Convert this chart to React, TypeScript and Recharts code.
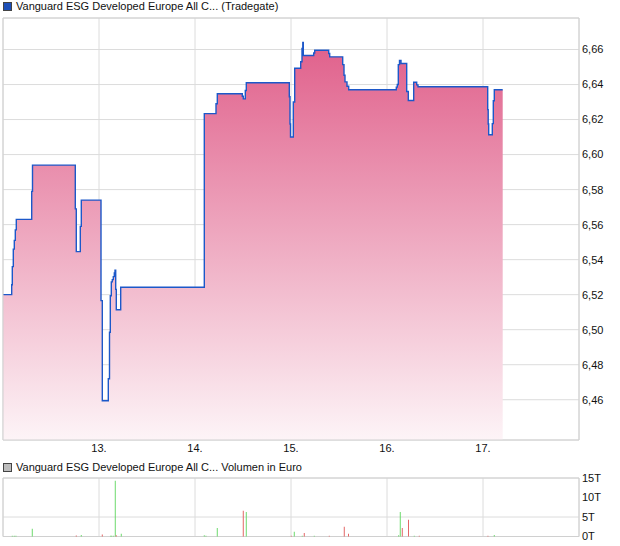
import React from 'react';
import { ComposedChart, Area, Bar, XAxis, YAxis, CartesianGrid, ReferenceArea } from 'recharts';

// time in trading days since start of the 12th (0 = 12., 1 = 13., ...)
const priceTimes = [
  0, 0.0906, 0.0969, 0.1073, 0.1177, 0.1281, 0.1385, 0.299, 0.3073, 0.7531, 0.7635, 0.8052, 0.8156,
  1.0208, 1.0344, 1.0969, 1.1094, 1.1177, 1.1281, 1.1385, 1.149, 1.1594, 1.1667, 1.174, 1.1802, 1.226,
  2.0969, 2.2188, 2.2323, 2.4927, 2.5031, 2.524, 2.5344, 2.9823, 2.9896, 2.9948, 3.024, 3.0385, 3.101,
  3.1146, 3.1229, 3.1281, 3.2365, 3.2469, 3.3927, 3.4031, 3.5385, 3.5521, 3.5625, 3.5833, 3.601,
  4.0969, 4.1073, 4.1177, 4.1302, 4.1458, 4.2052, 4.2219, 4.2781, 4.3094, 4.3229,
  5.049, 5.0542, 5.0594, 5.0969, 5.1073, 5.1177, 5.2052,
];
const priceValues = [
  6.52, 6.5257, 6.536, 6.546, 6.551, 6.557, 6.563, 6.579, 6.594, 6.569, 6.5446, 6.559, 6.574,
  6.5166, 6.4594, 6.472, 6.4985, 6.5194, 6.5273, 6.5286, 6.5303, 6.5324, 6.534, 6.523, 6.5114, 6.5242,
  6.6234, 6.629, 6.6347, 6.6333, 6.6318, 6.6366, 6.641, 6.633, 6.6175, 6.61, 6.63, 6.6493, 6.653,
  6.6606, 6.664, 6.6566, 6.658, 6.6596, 6.6577, 6.6558, 6.6514, 6.6453, 6.6415, 6.639, 6.637,
  6.6385, 6.64, 6.6514, 6.6537, 6.652, 6.636, 6.6309, 6.6413, 6.6398, 6.6387,
  6.6257, 6.6175, 6.6113, 6.6177, 6.6307, 6.637, 6.637,
];

const dayTicks = [1, 2, 3, 4, 5];
const dayLabels = ['13.', '14.', '15.', '16.', '17.'];
const priceTicks = [6.46, 6.48, 6.5, 6.52, 6.54, 6.56, 6.58, 6.6, 6.62, 6.64, 6.66];
const priceDomain = [6.437, 6.678];

// volume in thousands (T)
const upTimes = [0.0969, 0.1177, 0.1354, 0.3052, 0.8156, 1.1219, 1.1323, 1.149, 1.1698, 1.2323, 2.0969, 2.1146, 2.2323, 2.5344, 3.0344, 3.1177, 3.2427, 4.1219, 4.1385, 4.2844, 5.1177];
const upValues = [0.2, 0.2, 0.2, 2.0, 0.4, 0.2, 0.2, 0.2, 14.3, 0.7, 0.3, 0.2, 2.2, 6.3, 1.2, 0.2, 0.2, 0.3, 6.3, 0.2, 0.4];
const downTimes = [0.7635, 1.0344, 1.1802, 2.5031, 3.0031, 3.1385, 3.399, 3.5552, 3.599, 4.1594, 4.224, 4.3365, 5.0521];
const downValues = [0.25, 0.5, 0.3, 6.6, 0.2, 0.9, 0.2, 2.5, 0.7, 2.2, 4.3, 0.2, 0.2];
const volumeTicks = [0, 5, 10, 15];

const priceData = priceTimes.map((t, i) => ({ t, v: priceValues[i] }));
const volumeData = [
  ...upTimes.map((t, i) => ({ t, up: upValues[i], down: 0 })),
  ...downTimes.map((t, i) => ({ t, up: 0, down: downValues[i] })),
].sort((a, b) => a.t - b.t);

const FONT = '"Liberation Sans", Arial, sans-serif';
const GRID = '#dcdcdc';
const BORDER = '#d0d0d0';

const Legend = ({ top, color, text }: { top: number; color: string; text: string }) => (
  <div style={{ position: 'absolute', left: 3, top, display: 'flex', alignItems: 'center', fontFamily: FONT, fontSize: 11, color: '#111', whiteSpace: 'nowrap' }}>
    <span style={{ display: 'inline-block', width: 7, height: 7, background: color, border: '1px solid #444', marginRight: 4 }} />
    <span>{text}</span>
  </div>
);

export default function App() {
  return (
    <div style={{ position: 'absolute', left: 0, top: 0, width: 620, height: 546, background: '#fff', overflow: 'hidden' }}>
      <Legend top={0} color="#1d4fb8" text="Vanguard ESG Developed Europe All C... (Tradegate)" />
      <div style={{ position: 'absolute', left: 0, top: 0 }}>
        <ComposedChart width={620} height={460} data={priceData} margin={{ top: 18, right: 0, left: 3, bottom: 0 }}>
          <defs>
            <linearGradient id="pg" x1="0" y1="0" x2="0" y2="1">
              <stop offset="0%" stopColor="#e0608b" />
              <stop offset="100%" stopColor="#fdf4f7" />
            </linearGradient>
          </defs>
          <CartesianGrid stroke={GRID} strokeWidth={1} />
          <XAxis
            dataKey="t"
            type="number"
            domain={[0, 6]}
            ticks={dayTicks}
            tickFormatter={(v: number) => dayLabels[dayTicks.indexOf(v)] ?? ''}
            axisLine={false}
            tickLine={false}
            height={20}
            tickSize={2}
            tickMargin={2}
            tick={{ fontFamily: FONT, fontSize: 11, fill: '#111' }}
            allowDataOverflow
          />
          <YAxis
            orientation="right"
            type="number"
            domain={priceDomain}
            ticks={priceTicks}
            tickFormatter={(v: number) => v.toFixed(2).replace('.', ',')}
            axisLine={false}
            tickLine={false}
            width={41}
            tickSize={3}
            tickMargin={0}
            tick={{ fontFamily: FONT, fontSize: 11, fill: '#111' }}
            allowDataOverflow
          />
          <Area
            type="stepAfter"
            dataKey="v"
            stroke="#1c58c9"
            strokeWidth={1.4}
            fill="url(#pg)"
            fillOpacity={1}
            dot={false}
            activeDot={false}
            isAnimationActive={false}
          />
          <ReferenceArea x1={0} x2={6} y1={priceDomain[0]} y2={priceDomain[1]} fill="none" stroke={BORDER} strokeWidth={1} ifOverflow="visible" />
        </ComposedChart>
      </div>
      <Legend top={461} color="#bdbdbd" text="Vanguard ESG Developed Europe All C... Volumen in Euro" />
      <div style={{ position: 'absolute', left: 0, top: 470 }}>
        <ComposedChart width={620} height={76} data={volumeData} margin={{ top: 8, right: 0, left: 3, bottom: 9.5 }}>
          <CartesianGrid stroke={GRID} strokeWidth={1} />
          <XAxis dataKey="t" type="number" domain={[0, 6]} ticks={dayTicks} hide />
          <YAxis
            orientation="right"
            type="number"
            domain={[0, 15]}
            ticks={volumeTicks}
            tickFormatter={(v: number) => `${v}T`}
            axisLine={false}
            tickLine={false}
            width={41}
            tickSize={3}
            tickMargin={0}
            tick={{ fontFamily: FONT, fontSize: 11, fill: '#111' }}
          />
          <Bar dataKey="up" stackId="v" fill="#5cd65c" barSize={1} isAnimationActive={false} />
          <Bar dataKey="down" stackId="v" fill="#e05555" barSize={1} isAnimationActive={false} />
          <ReferenceArea x1={0} x2={6} y1={0} y2={15} fill="none" stroke={BORDER} strokeWidth={1} ifOverflow="visible" />
        </ComposedChart>
      </div>
    </div>
  );
}
